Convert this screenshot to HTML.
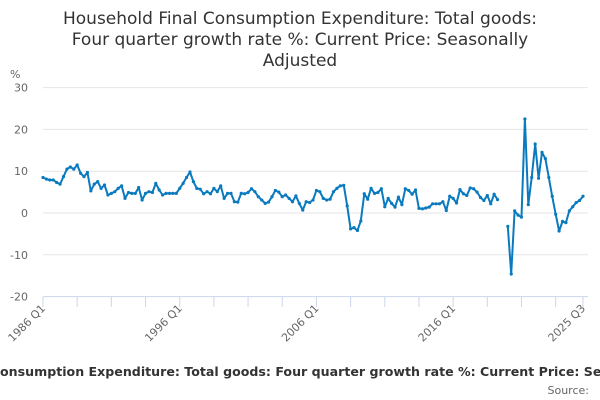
<!DOCTYPE html>
<html><head><meta charset="utf-8"><style>
body{margin:0;background:#fff;width:600px;height:400px;overflow:hidden;font-family:"Liberation Sans","DejaVu Sans",sans-serif}
svg{display:block}
</style></head><body>
<svg id="chart" width="600" height="400" xmlns="http://www.w3.org/2000/svg" font-family="DejaVu Sans, Liberation Sans, sans-serif">
<g font-size="17" fill="#333" text-anchor="middle">
<text x="300" y="24">Household Final Consumption Expenditure: Total goods:</text>
<text x="300" y="45">Four quarter growth rate %: Current Price: Seasonally</text>
<text x="300" y="66">Adjusted</text>
</g>
<text x="10" y="78" font-size="11" fill="#666">%</text>
<g id="grid"></g>
<g id="yticks" font-size="11" fill="#666" text-anchor="end"></g>
<g id="xaxis"></g>
<g id="series"></g>
<text x="300" y="376" font-size="12.6" font-weight="bold" fill="#333" text-anchor="middle">Household Final Consumption Expenditure: Total goods: Four quarter growth rate %: Current Price: Seasonally Adjusted</text>
<text x="589" y="394" font-size="11" fill="#666" text-anchor="end">Source:</text>
</svg>
<script>
const yTicks=[30,20,10,0,-10,-20];
const xLabels=["1986 Q1","1996 Q1","2006 Q1","2016 Q1","2025 Q3"];
const xLabelIdx=[0,40,80,120,158];
const values=[8.5,8.1,7.9,7.9,7.3,6.9,8.7,10.5,11,10.5,11.5,9.5,8.7,9.7,5.3,6.9,7.5,5.9,6.7,4.3,4.7,5.1,5.9,6.5,3.5,4.9,4.7,4.7,6.1,3.1,4.7,5.1,4.9,7.1,5.5,4.3,4.7,4.7,4.7,4.7,5.9,7.1,8.5,9.8,7.5,5.9,5.7,4.6,5.1,4.6,5.9,
5.1,6.5,3.5,4.7,4.7,2.7,2.6,4.7,4.6,4.9,5.8,5.1,3.9,3.1,2.3,2.6,3.9,5.4,5,3.9,4.3,3.5,2.7,4.1,2.3,0.7,2.7,2.5,3.1,5.4,5.1,3.5,3.1,3.3,5.1,5.9,6.5,6.6,1.7,-3.8,-3.5,-4.2,-1.9,4.6,3.3,5.9,4.7,4.9,5.8,1.5,3.5,2.3,1.4,
3.8,2.0,5.8,5.4,4.5,5.5,1.1,1.0,1.2,1.4,2.2,2.2,2.2,2.7,0.6,4.0,3.5,2.4,5.6,4.6,4.2,6.0,5.8,5.0,3.7,3.0,4.2,2.2,4.5,3.2,
null,null,
-3.2,-14.6,0.5,-0.5,-1.0,22.5,2.0,8.5,16.5,8.3,14.5,13,8.5,4,-0.3,-4.3,-2,-2.3,0.5,1.5,2.5,3,4];
const NS="http://www.w3.org/2000/svg";
const x0=43,x1=583,y0=213,pu=4.18;
const xs=i=>x0+i*(x1-x0)/(values.length-1);
const ys=v=>y0-v*pu;
function mk(t,a,p){const e=document.createElementNS(NS,t);for(const k in a)e.setAttribute(k,a[k]);p.appendChild(e);return e;}
const grid=document.getElementById('grid'),yt=document.getElementById('yticks'),xa=document.getElementById('xaxis'),se=document.getElementById('series');
yTicks.forEach(v=>{
 const l=mk('line',{x1:x0,x2:x1+5,y1:ys(v),y2:ys(v),stroke:v===-20?'#ccd6eb':'#e6e6e6','stroke-width':1},grid);
 
 
 const t=mk('text',{x:28,y:ys(v)+4},yt);t.textContent=v;
 
 
});
for(let i=0;i<values.length;i+=10){
 const t=mk('line',{x1:xs(i),x2:xs(i),y1:297,y2:307,stroke:'#ccd6eb'},xa);
 
 
}
mk('line',{x1:xs(158),x2:xs(158),y1:297,y2:307,stroke:'#ccd6eb'},xa);
xLabels.forEach((s,k)=>{
 const x=xs(xLabelIdx[k]);
 const t=mk('text',{x:x+3,y:309,'font-size':11,fill:'#666','text-anchor':'end',transform:`rotate(-45 ${x+3} 309)`},xa);
 t.textContent=s;
 
 
});
let d='',pen=false;
values.forEach((v,i)=>{
 if(v===null){pen=false;return;}
 d+=(pen?'L':'M')+xs(i).toFixed(1)+' '+ys(v).toFixed(1);pen=true;
});
const p=mk('path',{d:d,fill:'none',stroke:'#0a7abf','stroke-width':2,'stroke-linejoin':'round'},se);


values.forEach((v,i)=>{
 if(v===null)return;
 const c=mk('circle',{cx:xs(i),cy:ys(v),r:1.6,fill:'#0a7abf'},se);
 
 
});
</script>
</body></html>
